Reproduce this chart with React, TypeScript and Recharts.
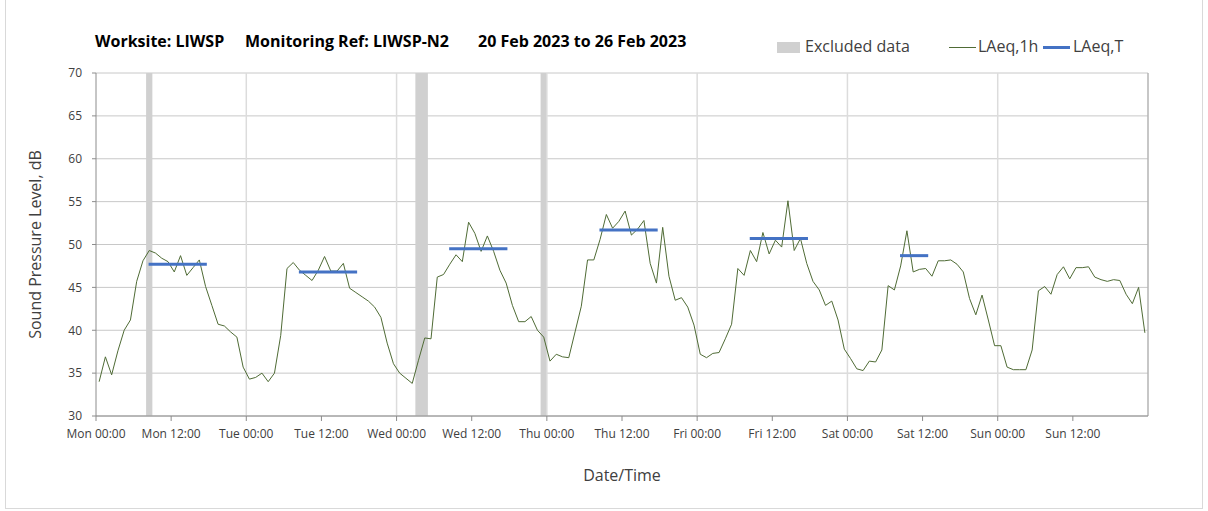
import {
  ComposedChart, Line, XAxis, YAxis, CartesianGrid,
  ReferenceArea, ReferenceLine,
} from 'recharts'

const DAYS = ['Mon', 'Tue', 'Wed', 'Thu', 'Fri', 'Sat', 'Sun']
const X_TICKS = [0, 12, 24, 36, 48, 60, 72, 84, 96, 108, 120, 132, 144, 156]
const Y_TICKS = [30, 35, 40, 45, 50, 55, 60, 65, 70]
const DAY_STARTS = [24, 48, 72, 96, 120, 144]

// hourly LAeq,1h from Mon 00:00, one value per hour
const LAEQ_1H = [
  34.0, 36.9, 34.8, 37.6, 40.0, 41.2, 45.7, 48.1, 49.3, 49.0, 48.4, 48.0,
  46.8, 48.7, 46.4, 47.3, 48.2, 45.1, 42.9, 40.7, 40.5, 39.8, 39.2, 35.7,
  34.3, 34.5, 35.0, 34.0, 35.0, 39.4, 47.2, 47.9, 47.0, 46.4, 45.8, 47.0,
  48.6, 46.9, 46.9, 47.8, 44.9, 44.4, 43.9, 43.4, 42.7, 41.5, 38.5, 36.1,
  35.0, 34.4, 33.8, 36.5, 39.1, 39.0, 46.2, 46.5, 47.7, 48.8, 48.0, 52.6,
  51.3, 49.2, 51.0, 49.2, 47.0, 45.5, 42.9, 41.0, 41.0, 41.6, 40.0, 39.2,
  36.4, 37.2, 36.9, 36.8, 39.8, 42.8, 48.2, 48.2, 50.6, 53.5, 51.9, 52.7,
  53.9, 51.1, 51.8, 52.8, 47.8, 45.5, 52.0, 46.3, 43.5, 43.8, 42.7, 40.6,
  37.2, 36.8, 37.3, 37.4, 39.0, 40.7, 47.2, 46.4, 49.3, 48.0, 51.4, 48.9,
  50.5, 49.7, 55.1, 49.3, 50.7, 47.8, 45.7, 44.7, 42.9, 43.4, 41.2, 37.8,
  36.7, 35.5, 35.3, 36.4, 36.3, 37.7, 45.2, 44.7, 47.5, 51.6, 46.8, 47.1,
  47.2, 46.3, 48.1, 48.1, 48.2, 47.7, 46.8, 43.7, 41.8, 44.1, 41.2, 38.2,
  38.2, 35.7, 35.4, 35.4, 35.4, 37.7, 44.6, 45.1, 44.2, 46.5, 47.4, 46.0,
  47.3, 47.3, 47.4, 46.2, 45.9, 45.7, 45.9, 45.8, 44.2, 43.1, 45.0, 39.7,
]

// LAeq,T per day period (hours from Mon 00:00)
const LAEQ_T = [47.7, 46.8, 49.5, 51.7, 50.7, 48.7]
const LAEQ_T_FROM = [8.4, 32.4, 56.4, 80.4, 104.4, 128.4]
const LAEQ_T_TO = [17.7, 41.7, 65.7, 89.7, 113.7, 132.9]

// excluded periods, hours from Mon 00:00
const EXCLUDED_FROM = [8, 51, 71]
const EXCLUDED_TO = [9, 53, 72]

const data = LAEQ_1H.map((v, i) => ({ t: i + 0.5, v }))

const fmtTick = (v: number) => `${DAYS[Math.floor(v / 24)]} ${v % 24 === 0 ? '00' : '12'}:00`

const FONT = '"Open Sans", "Noto Sans", sans-serif'
const GREY_TEXT = '#404040'

const abs = (left: number, top: number): React.CSSProperties => ({
  position: 'absolute', left, top, whiteSpace: 'nowrap',
})

export default function App() {
  const title = { fontSize: 16, fontWeight: 700, color: '#000' }
  const leg = { fontSize: 16, color: GREY_TEXT }
  return (
    <div style={{
      position: 'absolute', left: 0, top: 0, width: 1208, height: 511,
      background: '#fff', fontFamily: FONT, overflow: 'hidden',
    }}>
      <div style={{ position: 'absolute', left: 5, top: -2, width: 1196, height: 509, border: '1px solid #d9d9d9' }} />

      <div style={{ ...abs(95, 30), ...title }}>Worksite: LIWSP</div>
      <div style={{ ...abs(245, 30), ...title }}>Monitoring Ref: LIWSP-N2</div>
      <div style={{ ...abs(478, 30), ...title }}>20 Feb 2023 to 26 Feb 2023</div>

      <div style={{ ...abs(777, 42), width: 23, height: 11, background: '#d0d0d0' }} />
      <div style={{ ...abs(805, 35), ...leg }}>Excluded data</div>
      <div style={{ ...abs(949, 47), width: 27, height: 1, background: '#4f6b35' }} />
      <div style={{ ...abs(978, 35), ...leg }}>LAeq,1h</div>
      <div style={{ ...abs(1043, 46), width: 27, height: 3, background: '#4472c4' }} />
      <div style={{ ...abs(1073, 35), ...leg }}>LAeq,T</div>

      <ComposedChart
        width={1208}
        height={511}
        data={data}
        margin={{ top: 73, right: 60, bottom: 30, left: 36 }}
        style={{ position: 'absolute', left: 0, top: 0 }}
      >
        <CartesianGrid vertical={false} stroke="#c8c8c8" />
        {EXCLUDED_FROM.map((x1, i) => (
          <ReferenceArea key={'ex' + i} x1={x1} x2={EXCLUDED_TO[i]} y1={30} y2={70} fill="#d0d0d0" fillOpacity={1} stroke="none" />
        ))}
        {DAY_STARTS.map((d) => (
          <ReferenceLine key={'d' + d} x={d} stroke="#dcdcdc" strokeWidth={1.5} />
        ))}
        <ReferenceLine x={168} stroke="#b5b5b5" strokeWidth={1.5} />
        <XAxis
          type="number"
          dataKey="t"
          domain={[0, 168]}
          ticks={X_TICKS}
          interval={0}
          tickFormatter={fmtTick}
          tick={{ fontSize: 12, fill: GREY_TEXT, fontFamily: FONT }}
          tickSize={5}
          tickMargin={8}
          tickLine={{ stroke: '#8c8c8c' }}
          axisLine={{ stroke: '#8c8c8c' }}
          height={65}
          allowDataOverflow
          label={{ value: 'Date/Time', position: 'insideBottom', offset: 0, fontSize: 16, fill: GREY_TEXT, fontFamily: FONT }}
        />
        <YAxis
          type="number"
          domain={[30, 70]}
          ticks={Y_TICKS}
          interval={0}
          width={60}
          tick={{ fontSize: 12, fill: GREY_TEXT, fontFamily: FONT }}
          tickSize={4}
          tickMargin={10}
          tickLine={{ stroke: '#8c8c8c' }}
          axisLine={{ stroke: '#8c8c8c' }}
          allowDataOverflow
          label={{
            value: 'Sound Pressure Level, dB', angle: -90, position: 'insideLeft', offset: -1,
            style: { textAnchor: 'middle' }, fontSize: 16, fill: GREY_TEXT, fontFamily: FONT,
          }}
        />
        <Line
          type="linear"
          dataKey="v"
          stroke="#4f6b35"
          strokeWidth={1}
          dot={false}
          activeDot={false}
          isAnimationActive={false}
        />
        {LAEQ_T.map((v, i) => (
          <ReferenceLine
            key={'t' + i}
            segment={[{ x: LAEQ_T_FROM[i], y: v }, { x: LAEQ_T_TO[i], y: v }]}
            stroke="#4472c4"
            strokeWidth={3}
          />
        ))}
      </ComposedChart>
    </div>
  )
}
